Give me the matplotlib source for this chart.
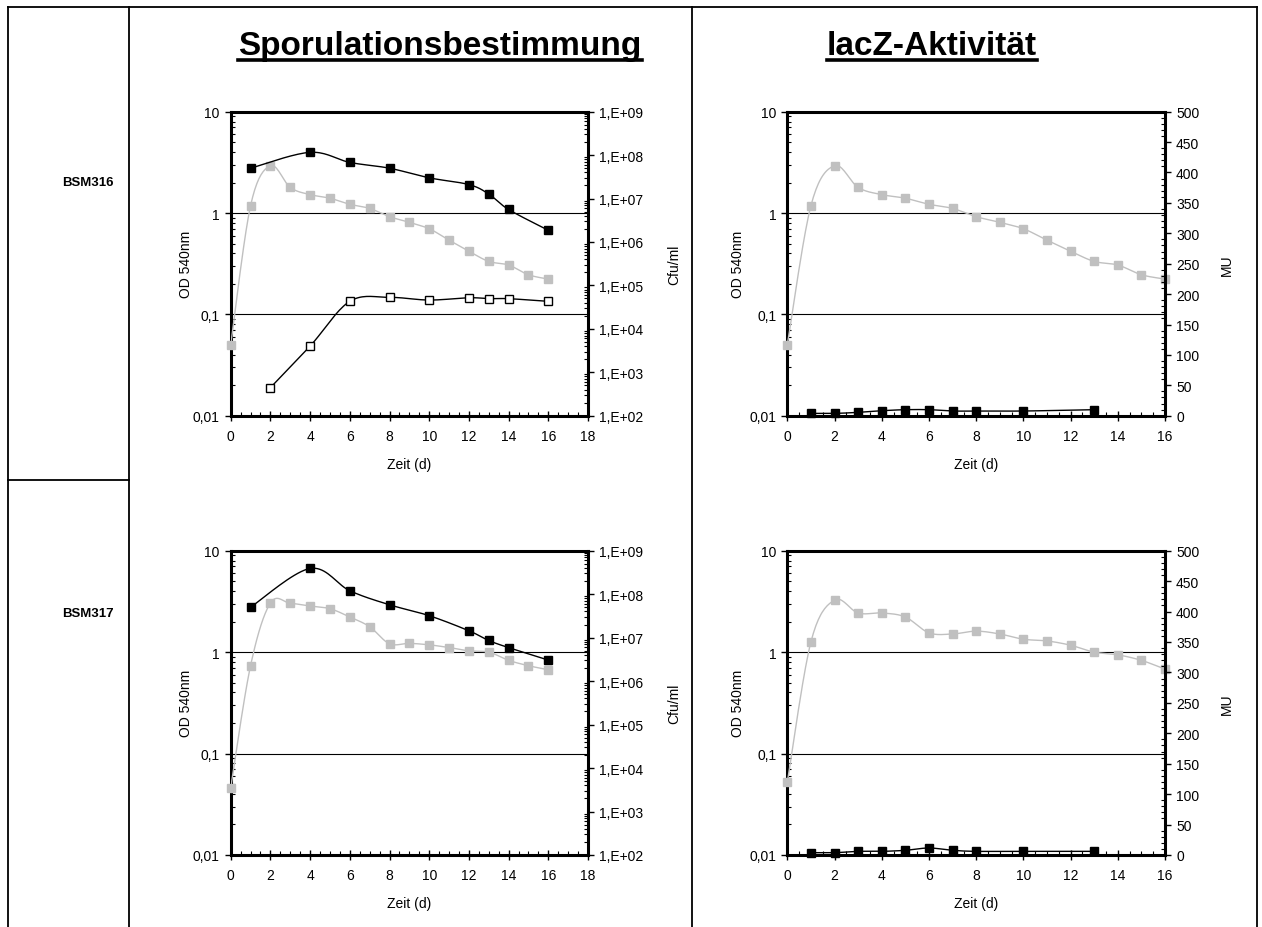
import numpy as np
import matplotlib
matplotlib.use('Agg')
import matplotlib.pyplot as plt
from matplotlib import font_manager
from matplotlib.ticker import FixedLocator, LogLocator, NullFormatter, FuncFormatter, MultipleLocator
from matplotlib.lines import Line2D

# Schriften: Arial-Ersatz, Titel in schmaler Variante falls vorhanden
namen = {f.name for f in font_manager.fontManager.ttflist}
plt.rcParams['font.family'] = ['Liberation Sans', 'DejaVu Sans']
schmal = 'Liberation Sans Narrow' in namen
titel_font = 'Liberation Sans Narrow' if schmal else 'Liberation Sans'
titel_groesse = 28 if schmal else 24

# Messdaten
tage_od = list(range(17))

# BSM316
od_316 = [0.050, 1.18, 2.93, 1.79, 1.52, 1.40, 1.22, 1.11, 0.92, 0.81, 0.70, 0.54, 0.42, 0.333, 0.307, 0.246, 0.223]
tage_cfu_316 = [1, 4, 6, 8, 10, 12, 13, 14, 16]
cfu_316 = [5.0e7, 1.16e8, 6.8e7, 5.0e7, 3.0e7, 2.1e7, 1.27e7, 5.6e6, 1.86e6]
tage_sporen_316 = [2, 4, 6, 8, 10, 12, 13, 14, 16]
sporen_316 = [442, 4.0e3, 4.3e4, 5.3e4, 4.6e4, 5.2e4, 4.95e4, 4.95e4, 4.3e4]
tage_mu_316 = [1, 2, 3, 4, 5, 6, 7, 8, 10, 13]
mu_316 = [3.8, 3.8, 5.5, 8.2, 9.9, 9.9, 7.7, 7.7, 7.7, 9.9]

# BSM317
od_317_spo = [0.046, 0.735, 3.05, 3.03, 2.85, 2.68, 2.22, 1.78, 1.21, 1.22, 1.18, 1.11, 1.03, 1.0, 0.83, 0.735, 0.67]
tage_cfu_317 = [1, 4, 6, 8, 10, 12, 13, 14, 16]
cfu_317 = [5.0e7, 3.9e8, 1.2e8, 5.7e7, 3.2e7, 1.44e7, 8.6e6, 5.9e6, 3.05e6]
od_317_lacz = [0.052, 1.26, 3.26, 2.43, 2.43, 2.22, 1.55, 1.51, 1.61, 1.51, 1.34, 1.29, 1.17, 1.0, 0.94, 0.83, 0.68]
tage_mu_317 = [1, 2, 3, 4, 5, 6, 7, 8, 10, 13]
mu_317 = [3.8, 3.8, 6.0, 6.0, 7.7, 11.5, 7.7, 6.0, 6.0, 6.0]

W, H = 1262, 928
GRAU = '#c0c0c0'

fig = plt.figure(figsize=(W / 100, H / 100), dpi=100)


def rect(l, r, t, b):
    return [l / W, 1 - b / H, (r - l) / W, (b - t) / H]


def glatt(x, y, log=False, n=20):
    # geglättete Linie wie in Excel (Bezier mit Tangenten aus Nachbarpunkten)
    x = np.asarray(x, float)
    y = np.log10(y) if log else np.asarray(y, float)
    px, py = [x[0]], [y[0]]
    t = np.linspace(0, 1, n)[1:]
    for i in range(len(x) - 1):
        i0, i3 = max(i - 1, 0), min(i + 2, len(x) - 1)
        p0 = np.array([x[i], y[i]])
        p3 = np.array([x[i + 1], y[i + 1]])
        p1 = p0 + (p3 - np.array([x[i0], y[i0]])) / 6
        p2 = p3 - (np.array([x[i3], y[i3]]) - p0) / 6
        for s in t:
            q = (1 - s) ** 3 * p0 + 3 * (1 - s) ** 2 * s * p1 + 3 * (1 - s) * s ** 2 * p2 + s ** 3 * p3
            px.append(q[0])
            py.append(q[1])
    py = np.array(py)
    return np.array(px), (10 ** py if log else py)


def diagramm(pos, xmax, od, rechts, od_x):
    ax = fig.add_axes(pos)
    ax.set_yscale('log')
    ax.set_ylim(0.01, 10)
    ax.set_xlim(0, xmax)
    ax.set_yticks([0.01, 0.1, 1, 10])
    ax.set_yticklabels(['0,01', '0,1', '1', '10'])
    ax.yaxis.set_minor_locator(LogLocator(subs=np.arange(2, 10)))
    ax.yaxis.set_minor_formatter(NullFormatter())
    ax.set_xticks(np.arange(0, xmax + 1, 2))
    ax.xaxis.set_minor_locator(MultipleLocator(0.5))
    ax.tick_params(axis='x', which='major', direction='inout', length=7, width=1, labelsize=10, pad=6)
    ax.tick_params(axis='x', which='minor', direction='in', length=3, width=0.8)
    ax.tick_params(axis='y', which='major', direction='out', length=4, width=1, labelsize=10, pad=4)
    ax.tick_params(axis='y', which='minor', direction='in', length=3, width=0.8)
    for y in (0.1, 1):
        ax.axhline(y, color='black', lw=0.8, zorder=1)
    for s in ax.spines.values():
        s.set_linewidth(2.2)
    ax.spines['right'].set_visible(False)
    ax.set_ylabel('OD 540nm', fontsize=10)
    ax.yaxis.set_label_coords(od_x, 0.5)
    ax.set_xlabel('Zeit (d)', fontsize=10, labelpad=10)

    lx, ly = glatt(tage_od, od, log=True)
    ax.plot(lx, ly, color=GRAU, lw=1, zorder=3)
    ax.plot(tage_od, od, ls='none', marker='s', ms=5.5, color=GRAU, zorder=4, clip_on=False)

    ax2 = ax.twinx()
    for k in ('left', 'top', 'bottom'):
        ax2.spines[k].set_visible(False)
    ax2.spines['right'].set_linewidth(2.2)
    ax2.tick_params(axis='y', which='major', direction='out', length=4, width=1, labelsize=10, pad=4)
    ax2.tick_params(axis='y', which='minor', direction='in', length=3, width=0.8)
    rechts(ax2)
    return ax, ax2


def cfu_achse(ax2):
    ax2.set_yscale('log')
    ax2.set_ylim(1e2, 1e9)
    ax2.yaxis.set_major_locator(FixedLocator([10.0 ** k for k in range(2, 10)]))
    ax2.yaxis.set_major_formatter(FuncFormatter(lambda v, p: '1,E+%02d' % round(np.log10(v))))
    ax2.yaxis.set_minor_locator(LogLocator(subs=np.arange(2, 10), numticks=20))
    ax2.yaxis.set_minor_formatter(NullFormatter())
    ax2.set_ylabel('Cfu/ml', fontsize=10)
    ax2.yaxis.set_label_coords(1.221, 0.5)


def mu_achse(ax2):
    ax2.set_ylim(0, 500)
    ax2.set_yticks(np.arange(0, 501, 50))
    ax2.yaxis.set_minor_locator(MultipleLocator(10))
    ax2.set_ylabel('MU', fontsize=10)
    ax2.yaxis.set_label_coords(1.146, 0.5)


def schwarz(ax2, x, y, log, offen=False):
    lx, ly = glatt(x, y, log=log)
    ax2.plot(lx, ly, color='black', lw=1, zorder=3)
    ax2.plot(x, y, ls='none', marker='s', ms=6, mec='black', mew=1,
             mfc='white' if offen else 'black', zorder=4, clip_on=False)


# BSM316 Sporulation
_, a = diagramm(rect(230.7, 588, 112.7, 416.7), 18, od_316, cfu_achse, -0.105)
schwarz(a, tage_cfu_316, cfu_316, True)
schwarz(a, tage_sporen_316, sporen_316, True, offen=True)

# BSM316 lacZ
_, a = diagramm(rect(787.3, 1165, 112.7, 416.7), 16, od_316, mu_achse, -0.112)
schwarz(a, tage_mu_316, mu_316, False)

# BSM317 Sporulation
_, a = diagramm(rect(230.7, 588, 551.7, 856), 18, od_317_spo, cfu_achse, -0.105)
schwarz(a, tage_cfu_317, cfu_317, True)

# BSM317 lacZ
_, a = diagramm(rect(787.3, 1165, 551.7, 856), 16, od_317_lacz, mu_achse, -0.112)
schwarz(a, tage_mu_317, mu_317, False)


# Tabellenrahmen
def linie(x0, y0, x1, y1):
    fig.add_artist(Line2D([x0 / W, x1 / W], [1 - y0 / H, 1 - y1 / H], color='black', lw=1.3))


linie(8, 8, 1257, 8)
linie(8, 8, 8, H)
linie(1257, 8, 1257, H)
linie(129, 8, 129, H)
linie(692, 8, 692, H)
linie(8, 481, 129, 481)

# Zeilenbeschriftungen
fig.text(62 / W, 1 - 183 / H, 'BSM316', fontsize=9.5, fontweight='bold', va='center')
fig.text(62 / W, 1 - 614 / H, 'BSM317', fontsize=9.5, fontweight='bold', va='center')

# Spaltenüberschriften, unterstrichen
titel = []
for tx, s in ((440, 'Sporulationsbestimmung'), (932, 'lacZ-Aktivität')):
    titel.append(fig.text(tx / W, 1 - 55 / H, s, fontsize=titel_groesse, fontweight='bold',
                          family=[titel_font, 'DejaVu Sans'], ha='center', va='baseline'))
fig.canvas.draw()
r = fig.canvas.get_renderer()
for t in titel:
    bb = t.get_window_extent(renderer=r)
    yu = bb.y0 + 1
    fig.add_artist(Line2D([bb.x0 / W, bb.x1 / W], [yu / H, yu / H], color='black', lw=2.6))

fig.savefig('out.png', dpi=100)
